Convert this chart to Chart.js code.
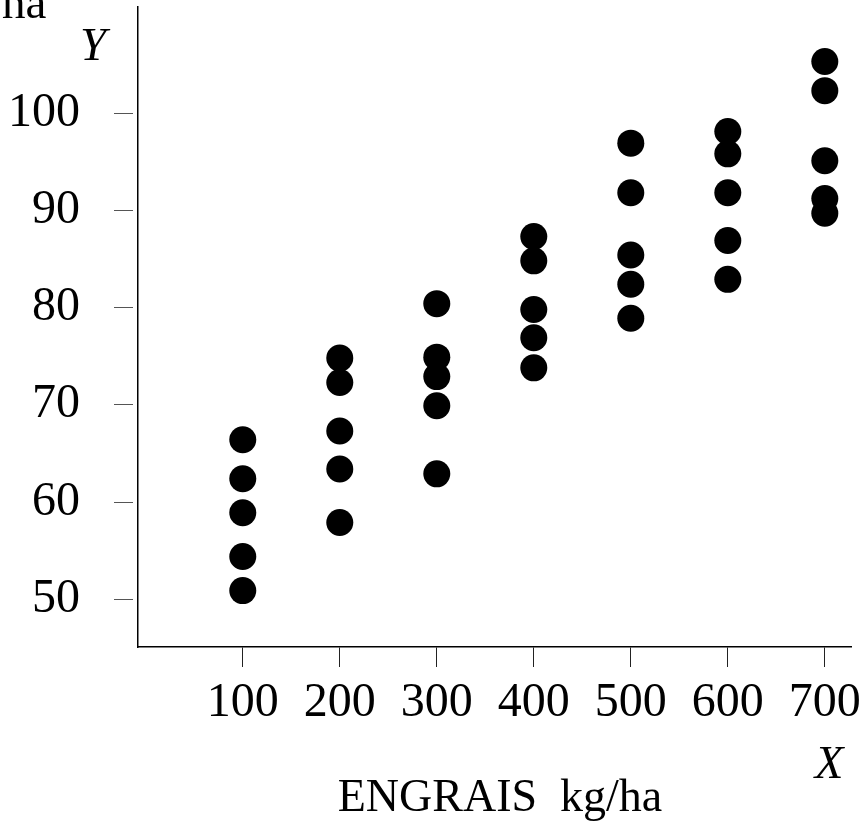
<!DOCTYPE html>
<html><head><meta charset="utf-8">
<script src="https://cdn.jsdelivr.net/npm/chart.js@4"></script>
<style>html,body{margin:0;padding:0;background:#fff;}#wrap{width:868px;height:831px;}</style>
</head><body><div id="wrap"><canvas id="c" width="868" height="831"></canvas></div>
<script>
// Fertilizer doses (kg/ha)
const doses = [100, 200, 300, 400, 500, 600, 700];
// Yields read for each dose
const yield100 = [66.4, 62.4, 58.9, 54.4, 50.9];
const yield200 = [74.8, 72.3, 67.3, 63.4, 57.9];
const yield300 = [80.4, 74.9, 72.9, 69.9, 62.9];
const yield400 = [87.3, 84.8, 79.8, 76.9, 73.8];
const yield500 = [96.9, 91.8, 85.4, 82.4, 78.9];
const yield600 = [98.1, 95.8, 91.8, 86.9, 82.9];
const yield700 = [105.3, 102.3, 95.1, 91.2, 89.7];
const xTickValues = [100, 200, 300, 400, 500, 600, 700];
const yTickValues = [50, 60, 70, 80, 90, 100];
const xAxisTitle = 'ENGRAIS  kg/ha';
const xSymbol = 'X';
const ySymbol = 'Y';
const yUnitFragment = 'ha';

const yieldsByDose = [yield100, yield200, yield300, yield400, yield500, yield600, yield700];
const points = [];
doses.forEach((d, i) => yieldsByDose[i].forEach(v => points.push({x: d, y: v})));

const serif = '"Liberation Serif", "Times New Roman", serif';

const textPlugin = {
  id: 'texts',
  afterDraw(chart) {
    const ctx = chart.ctx;
    ctx.save();
    ctx.fillStyle = '#000';
    ctx.textBaseline = 'alphabetic';
    ctx.font = '46px ' + serif;
    ctx.textAlign = 'center';
    ctx.fillText(xAxisTitle, 500, 811);
    ctx.font = 'italic 47px ' + serif;
    ctx.fillText(xSymbol, 829, 778);
    ctx.fillText(ySymbol, 93, 60);
    ctx.font = '47px ' + serif;
    ctx.textAlign = 'left';
    ctx.fillText(yUnitFragment, 2, 18);
    ctx.restore();
  }
};

new Chart(document.getElementById('c'), {
  type: 'scatter',
  data: {
    datasets: [{
      data: points,
      backgroundColor: '#000',
      borderWidth: 0,
      pointRadius: 13.5,
      pointHoverRadius: 13.5
    }]
  },
  options: {
    responsive: false,
    animation: false,
    devicePixelRatio: 1,
    layout: {autoPadding: false, padding: {top: 7, right: 17, left: 0, bottom: 0}},
    plugins: {legend: {display: false}, tooltip: {enabled: false}},
    scales: {
      x: {
        type: 'linear',
        min: -8, max: 727,
        afterBuildTicks(s) { s.ticks = xTickValues.map(v => ({value: v})); },
        afterFit(s) { s.height = 184; s.paddingLeft = 0; s.paddingRight = 0; },
        grid: {drawOnChartArea: false, drawTicks: true, tickLength: 20, color: '#222', lineWidth: 1},
        border: {display: true, color: '#000', width: 1.5},
        ticks: {padding: 8, color: '#000', font: {family: serif, size: 48}, maxRotation: 0, autoSkip: false}
      },
      y: {
        type: 'linear',
        min: 45.1, max: 110.9,
        afterBuildTicks(s) { s.ticks = yTickValues.map(v => ({value: v})); },
        afterFit(s) { s.width = 138; s.paddingTop = 0; s.paddingBottom = 0; },
        grid: {drawOnChartArea: false, drawTicks: true, tickLength: 24, tickBorderDash: [19, 40], color: '#555', lineWidth: 1},
        border: {display: true, color: '#000', width: 1.5},
        ticks: {padding: 34, color: '#000', font: {family: serif, size: 48}, autoSkip: false}
      }
    }
  },
  plugins: [textPlugin]
});
</script></body></html>
